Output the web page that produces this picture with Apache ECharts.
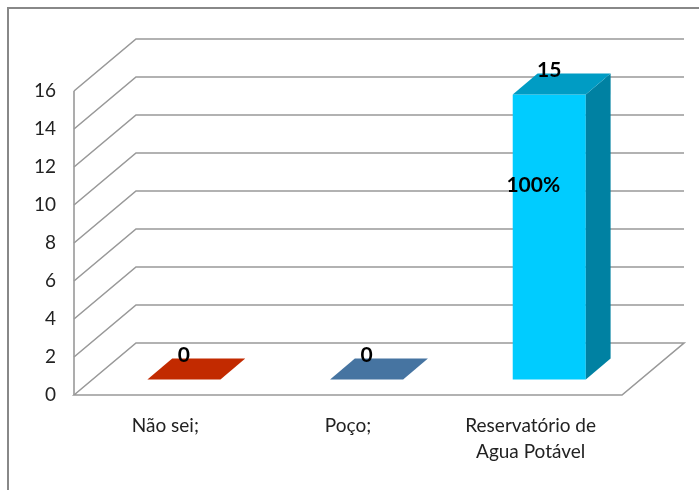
<!DOCTYPE html>
<html>
<head>
<meta charset="utf-8">
<title>Reservatório</title>
<script src="https://cdn.jsdelivr.net/npm/echarts@6/dist/echarts.min.js"></script>
<style>
  html, body { margin: 0; padding: 0; background: #fff; }
  #chart { width: 699px; height: 490px; }
</style>
</head>
<body>
<div id="chart"></div>
<script>
// data
const categories = ['Não sei;', 'Poço;', 'Reservatório de\nAgua Potável'];
const counts = [0, 0, 15];
const percents = [0, 0, 100];
const yTicks = [0, 2, 4, 6, 8, 10, 12, 14, 16];

// look of the 3d bars: front, side, top
const palette = [
  { front: '#C22A00', side: '#8E1F00', top: '#C22A00' },
  { front: '#4674A1', side: '#335576', top: '#4674A1' },
  { front: '#00CCFF', side: '#0081A2', top: '#009CC4' }
];
const DEPTH = [62, -52];   // floor depth offset in px
const Z0 = 0.3, Z1 = 0.7;  // bar depth inside the floor
const FONT = '"Liberation Sans Narrow", Lato, sans-serif';
const GRID_COLOR = '#999';

const chart = echarts.init(document.getElementById('chart'));

function wallItem(params, api) {
  const cs = params.coordSys;
  const v = api.value(0);
  const y = api.coord([0, v])[1];
  const left = cs.x, right = cs.x + cs.width;
  const dx = DEPTH[0], dy = DEPTH[1];
  const style = { stroke: GRID_COLOR, lineWidth: 1.6, fill: null };
  const children = [];
  if (v === 0) {
    // floor
    children.push({
      type: 'polygon',
      shape: { points: [[left, y], [left + dx, y + dy], [right + dx, y + dy], [right, y]] },
      style: style
    });
    // front left vertical
    const yTop = api.coord([0, yTicks[yTicks.length - 1]])[1];
    children.push({
      type: 'line',
      shape: { x1: left, y1: y, x2: left, y2: yTop },
      style: style
    });
  } else {
    children.push({
      type: 'polyline',
      shape: { points: [[left, y], [left + dx, y + dy], [right + dx, y + dy]] },
      style: style
    });
  }
  return { type: 'group', children: children };
}

function barItem(params, api) {
  const idx = api.value(0);
  const val = api.value(1);
  const pct = api.value(2);
  const col = palette[idx];
  const half = api.size([1, 0])[0] * 0.2;
  const base = api.coord([idx, 0]);
  const top = api.coord([idx, val]);
  const fx = base[0] + DEPTH[0] * Z0, fy0 = base[1] + DEPTH[1] * Z0;
  const fy1 = top[1] + DEPTH[1] * Z0;
  const bx = DEPTH[0] * (Z1 - Z0), by = DEPTH[1] * (Z1 - Z0);
  const x0 = fx - half, x1 = fx + half;
  const children = [];
  if (val > 0) {
    children.push({
      type: 'rect',
      shape: { x: x0, y: fy1, width: x1 - x0, height: fy0 - fy1 },
      style: { fill: col.front }
    });
    children.push({
      type: 'polygon',
      shape: { points: [[x1, fy1], [x1 + bx, fy1 + by], [x1 + bx, fy0 + by], [x1, fy0]] },
      style: { fill: col.side }
    });
  }
  children.push({
    type: 'polygon',
    shape: { points: [[x0, fy1], [x1, fy1], [x1 + bx, fy1 + by], [x0 + bx, fy1 + by]] },
    style: { fill: col.top }
  });
  // value label above the back edge of the top face
  children.push({
    type: 'text',
    style: {
      x: fx, y: fy1 + by - 3,
      text: String(val),
      font: 'bold 21px ' + FONT,
      fill: '#000',
      align: 'center', verticalAlign: 'middle'
    }
  });
  if (val > 0) {
    const py = api.coord([idx, val * 0.68])[1] + DEPTH[1] * Z0;
    children.push({
      type: 'text',
      style: {
        x: fx - 16, y: py,
        text: pct + '%',
        font: 'bold 21px ' + FONT,
        fill: '#000',
        align: 'center', verticalAlign: 'middle'
      }
    });
  }
  return { type: 'group', children: children };
}

chart.setOption({
  animation: false,
  graphic: [{
    type: 'rect',
    shape: { x: 8, y: 8, width: 720, height: 520 },
    style: { fill: null, stroke: '#888', lineWidth: 2 },
    silent: true
  }],
  grid: { left: 74, right: 77, top: 91, bottom: 95 },
  xAxis: {
    type: 'category',
    data: categories,
    axisLine: { show: false },
    axisTick: { show: false },
    splitLine: { show: false },
    axisLabel: {
      fontSize: 19, fontFamily: FONT, color: '#222',
      margin: 18, lineHeight: 26
    }
  },
  yAxis: {
    type: 'value',
    min: 0, max: 16, interval: 2,
    axisLine: { show: false },
    axisTick: { show: false },
    splitLine: { show: false },
    axisLabel: { fontSize: 19, fontFamily: FONT, color: '#222', margin: 18 }
  },
  series: [
    {
      type: 'custom',
      renderItem: wallItem,
      data: yTicks.map(v => [v]),
      encode: { y: 0 },
      z: 1,
      silent: true
    },
    {
      type: 'custom',
      renderItem: barItem,
      data: counts.map((c, i) => [i, c, percents[i]]),
      encode: { x: 0, y: 1 },
      z: 2
    }
  ]
});
</script>
</body>
</html>
